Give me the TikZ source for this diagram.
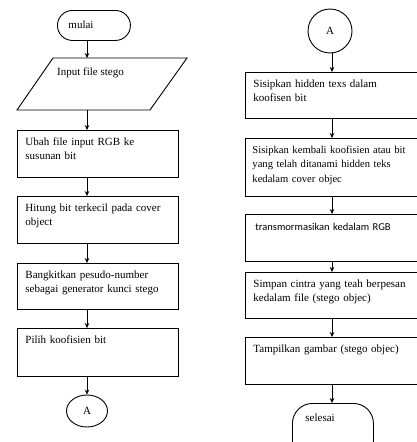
\documentclass[tikz,border=0pt]{standalone}
\usepackage{fontspec}
\setmainfont{Liberation Serif}
\newfontfamily\calibri{Carlito}
\usetikzlibrary{arrows.meta,shapes.geometric}
\tikzset{>={Stealth[length=5pt,width=4.5pt]},every node/.style={font=\fontsize{11}{14}\selectfont},arus/.style={->,semithick},garis/.style={line width=.9pt},
proses/.style={draw,garis,anchor=north west,inner xsep=8pt,inner ysep=0pt,text height=15pt,text depth=32pt,align=left},
kiribox/.style={proses,text width=145pt},kananbox/.style={proses,text width=156pt},
terminal/.style={draw,garis,rounded corners=15pt,anchor=north west,inner xsep=11pt,inner ysep=0pt,align=left}}

\begin{document}
\begin{tikzpicture}[x=1pt,y=-1pt]
\clip (0,0) rectangle (417,442);
\coordinate (kiri) at (87,0);\coordinate (kanan) at (332,0);
\node[terminal,text width=51pt,text height=18pt,text depth=12pt] (mulai) at (57,10){mulai};
\draw[garis] (53,58) coordinate (p1) -- (187,58) coordinate (p2) -- (150,110) coordinate (p3) -- (17,110) coordinate (p4) -- cycle;
\node[anchor=north west,inner sep=0pt,text height=17pt] (input) at (57,58){Input file stego};
\node[kiribox] (ubah) at (17,130){Ubah file input RGB ke\\susunan bit};
\node[kiribox] (hitung) at (17,196){Hitung bit terkecil pada cover\\object};
\node[kiribox,text depth=31pt] (bangkit) at (17,263){Bangkitkan pesudo-number\\sebagai generator kunci stego};
\node[kiribox,text depth=33pt] (pilih) at (17,328){Pilih koofisien bit};
\node[draw,garis,ellipse,minimum width=41pt,minimum height=32pt,inner sep=0pt] (akiri) at (87,411){A};
\draw[arus] (kiri |- mulai.south) -- (kiri |- p1);
\draw[arus] (kiri |- p4) -- (kiri |- ubah.north);
\draw[arus] (kiri |- ubah.south) -- (kiri |- hitung.north);
\draw[arus] (kiri |- hitung.south) -- (kiri |- bangkit.north);
\draw[arus] (kiri |- bangkit.south) -- (kiri |- pilih.north);
\draw[arus] (kiri |- pilih.south) -- (akiri.north);
\node[draw,garis,circle,minimum size=44pt,inner sep=0pt] (akanan) at (330,31){A};
\node[kananbox,text depth=31pt] (sisip) at (245,72){Sisipkan hidden texs dalam\\koofisen bit};
\node[kananbox,inner xsep=7pt,text width=158pt,text depth=43pt,font=\fontsize{10.6}{14.5}\selectfont] (kembali) at (245,138){Sisipkan kembali koofisien atau bit\\yang telah ditanami hidden teks\\kedalam cover objec};
\node[kananbox,text height=16pt,text depth=31pt,font=\calibri\fontsize{10.5}{14}\selectfont] (trans) at (245,214){\hspace*{2pt}transmormasikan kedalam RGB};
\node[kananbox,text depth=31pt] (simpan) at (245,272){Simpan cintra yang teah berpesan\\kedalam file (stego objec)};
\node[kananbox] (tampil) at (245,337){Tampilkan gambar (stego objec)};
\node[terminal,rounded corners=20pt,text width=55pt,inner xsep=13pt,text height=18pt,text depth=40pt] (selesai) at (292,403){selesai};
\draw[arus] (kanan |- akanan.south) -- (kanan |- sisip.north);
\draw[arus] (kanan |- sisip.south) -- (kanan |- kembali.north);
\draw[arus] (kanan |- kembali.south) -- (kanan |- trans.north);
\draw[arus] (kanan |- trans.south) -- (kanan |- simpan.north);
\draw[arus] (kanan |- simpan.south) -- (kanan |- tampil.north);
\draw[arus] (kanan |- tampil.south) -- (kanan |- selesai.north);
\end{tikzpicture}
\end{document}
